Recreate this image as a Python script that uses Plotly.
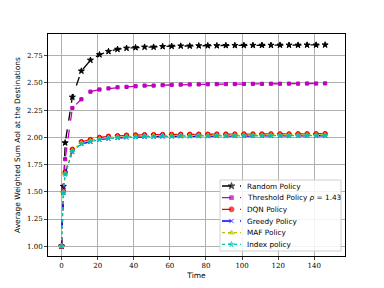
import plotly.graph_objects as go

time = [0, 1, 2, 6, 11, 16, 21, 26, 31, 36, 41, 46, 51, 56, 61, 66, 71, 76, 81, 86, 91, 96, 101, 106, 111, 116, 121, 126, 131, 136, 141, 146]

random_policy = [1.00, 1.55, 1.95, 2.37, 2.61, 2.71, 2.76, 2.79, 2.81, 2.82, 2.825, 2.83, 2.83, 2.835, 2.838, 2.84, 2.84, 2.842, 2.843, 2.843, 2.845, 2.845, 2.846, 2.846, 2.847, 2.847, 2.848, 2.848, 2.848, 2.849, 2.849, 2.85]
threshold_policy = [1.00, 1.52, 1.80, 2.27, 2.35, 2.42, 2.44, 2.45, 2.46, 2.464, 2.47, 2.476, 2.476, 2.48, 2.483, 2.485, 2.486, 2.487, 2.488, 2.489, 2.49, 2.49, 2.491, 2.492, 2.492, 2.493, 2.493, 2.494, 2.494, 2.495, 2.495, 2.496]
dqn_policy = [1.00, 1.50, 1.68, 1.89, 1.96, 1.98, 2.00, 2.01, 2.015, 2.02, 2.022, 2.024, 2.025, 2.026, 2.027, 2.028, 2.028, 2.029, 2.029, 2.03, 2.03, 2.03, 2.031, 2.031, 2.031, 2.032, 2.032, 2.032, 2.033, 2.033, 2.033, 2.034]
greedy_policy = [1.00, 1.49, 1.67, 1.87, 1.94, 1.96, 1.98, 1.99, 1.995, 2.00, 2.003, 2.005, 2.007, 2.008, 2.009, 2.01, 2.01, 2.011, 2.011, 2.012, 2.012, 2.012, 2.013, 2.013, 2.013, 2.014, 2.014, 2.014, 2.014, 2.015, 2.015, 2.015]
maf_policy = [1.00, 1.50, 1.67, 1.88, 1.95, 1.97, 1.99, 2.00, 2.005, 2.01, 2.012, 2.014, 2.016, 2.017, 2.018, 2.019, 2.019, 2.02, 2.02, 2.021, 2.021, 2.021, 2.022, 2.022, 2.022, 2.023, 2.023, 2.023, 2.023, 2.024, 2.024, 2.024]
index_policy = [1.00, 1.49, 1.66, 1.87, 1.94, 1.96, 1.98, 1.99, 1.997, 2.002, 2.005, 2.007, 2.009, 2.01, 2.011, 2.012, 2.012, 2.013, 2.013, 2.014, 2.014, 2.014, 2.015, 2.015, 2.015, 2.016, 2.016, 2.016, 2.016, 2.017, 2.017, 2.017]

series_names = ["Random Policy", "Threshold Policy <i>ρ</i> = 1.43", "DQN Policy",
                "Greedy Policy", "MAF Policy", "Index policy"]
x_ticks = [0, 20, 40, 60, 80, 100, 120, 140]
y_ticks = [1.00, 1.25, 1.50, 1.75, 2.00, 2.25, 2.50, 2.75]

values = [random_policy, threshold_policy, dqn_policy, greedy_policy, maf_policy, index_policy]
styles = [
    ("black", "dash", "star", 4.5),
    ("#bf00bf", "dash", "square", 3.2),
    ("red", "dash", "circle", 4.5),
    ("blue", "dash", "x-thin-open", 4),
    ("#bfbf00", "dot", "triangle-up", 4.5),
    ("#00bfbf", "dot", "star", 3.5),
]

fig = go.Figure()
for name, vals, (color, dash, sym, size) in zip(series_names, values, styles):
    fig.add_trace(go.Scatter(
        x=time, y=vals, mode="lines+markers", name=name, showlegend=False,
        line=dict(color=color, dash=dash, width=1.3),
        marker=dict(symbol=sym, size=size, color=color, line=dict(color=color, width=1.0)),
    ))

# ---- compact legend (drawn on an overlay axis spanning the plot area) ----
L, R, T, B = 48, 345, 34, 256
W, H = R - L, B - T
def px(v): return (v - L) / W
def py(v): return (B - v) / H

bx0, bx1, by0, by1 = px(220), px(341), py(251), py(180)
fig.add_trace(go.Scatter(
    x=[bx0, bx1, bx1, bx0, bx0], y=[by0, by0, by1, by1, by0], xaxis="x2", yaxis="y2",
    mode="lines", fill="toself", fillcolor="rgba(255,255,255,0.85)",
    line=dict(color="#d0d0d0", width=1), showlegend=False, hoverinfo="skip"))
for i, (name, (color, dash, sym, size)) in enumerate(zip(series_names, styles)):
    yr = py(186 + i * 11.67)
    fig.add_trace(go.Scatter(
        x=[px(222), px(231.5), px(241)], y=[yr, yr, yr], xaxis="x2", yaxis="y2",
        mode="lines+markers", showlegend=False, hoverinfo="skip",
        line=dict(color=color, dash=dash, width=1.3),
        marker=dict(symbol=sym, size=[0, size + 0.5, 0], color=color, line=dict(color=color, width=1.0))))
    fig.add_annotation(x=px(246), y=yr, xref="paper", yref="paper", text=name,
                       showarrow=False, xanchor="left", yanchor="middle", borderpad=0,
                       font=dict(family="DejaVu Sans", size=7.3, color="black"))

fig.update_layout(
    width=384, height=288,
    margin=dict(l=L, r=384 - R, t=T, b=288 - B, autoexpand=False),
    paper_bgcolor="white", plot_bgcolor="white",
    font=dict(family="DejaVu Serif", size=7, color="black"),
    showlegend=False,
    xaxis2=dict(overlaying="x", range=[0, 1], visible=False, fixedrange=True),
    yaxis2=dict(overlaying="y", range=[0, 1], visible=False, fixedrange=True),
    xaxis=dict(
        range=[-7.5, 157], tickvals=x_ticks, ticks="outside", ticklen=3, automargin=False,
        showgrid=True, gridcolor="#b0b0b0", gridwidth=0.8,
        showline=True, linecolor="black", linewidth=1, mirror=True, zeroline=False,
        title=dict(text="Time", font=dict(family="DejaVu Sans", size=7.5), standoff=3),
    ),
    yaxis=dict(
        range=[0.91, 2.95], tickvals=y_ticks, tickformat=".2f", ticks="outside", ticklen=3, automargin=False,
        showgrid=True, gridcolor="#b0b0b0", gridwidth=0.8,
        showline=True, linecolor="black", linewidth=1, mirror=True, zeroline=False,
        title=dict(text="Average Weighted Sum AoI at the Destinations", font=dict(family="DejaVu Sans", size=7.5), standoff=5),
    ),
)

fig.write_html("out.html", config={"displayModeBar": False},
               post_script="document.body.style.margin='0';document.body.style.overflow='hidden';")
